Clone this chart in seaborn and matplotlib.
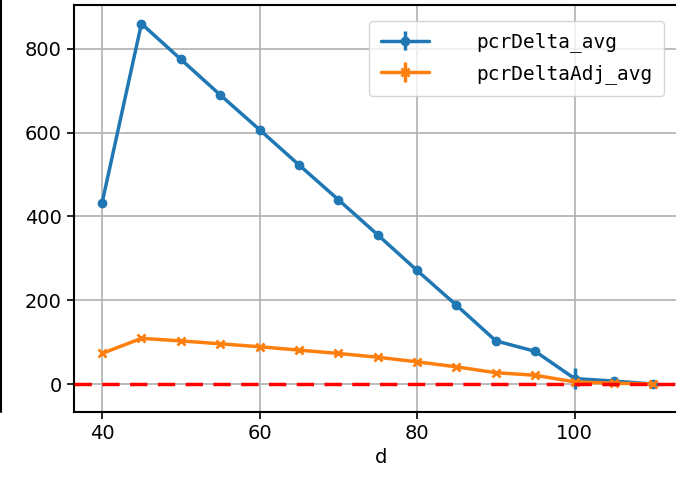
import numpy as np
import pandas as pd
import seaborn as sns
import matplotlib.pyplot as plt
from matplotlib.lines import Line2D

# Data
d = [40, 45, 50, 55, 60, 65, 70, 75, 80, 85, 90, 95, 100, 105, 110]
pcr_delta = [432, 860, 775, 690, 607, 523, 440, 356, 271, 188, 103, 78, 13, 7, 0]
pcr_delta_err = [3, 4, 3, 3, 3, 3, 3, 3, 3, 3, 4, 4, 26, 5, 2]
pcr_adj = [73, 109, 103, 96, 89, 81, 73, 64, 53, 41, 27, 21, 5, 2, 0]
pcr_adj_err = [3, 3, 3, 3, 3, 3, 3, 3, 3, 3, 3, 3, 4, 3, 2]

df = pd.DataFrame({'d': d, 'pcrDelta_avg': pcr_delta, 'pcrDeltaAdj_avg': pcr_adj})

sns.set_style('ticks')
plt.rcParams['font.family'] = ['Liberation Sans Narrow', 'DejaVu Sans']
plt.rcParams['text.color'] = 'black'
plt.rcParams['axes.labelcolor'] = 'black'
plt.rcParams['xtick.color'] = 'black'
plt.rcParams['ytick.color'] = 'black'

fig = plt.figure(figsize=(6.76, 4.82), dpi=100)
ax = fig.add_axes([0.109, 0.145, 0.91, 0.845])

colors = sns.color_palette('tab10')
ax.errorbar(df['d'], df['pcrDelta_avg'], yerr=pcr_delta_err, color=colors[0],
            marker='o', markersize=6, lw=2.5, elinewidth=2.5, label='pcrDelta_avg', zorder=3)
ax.errorbar(df['d'], df['pcrDeltaAdj_avg'], yerr=pcr_adj_err, color=colors[1],
            marker='x', markersize=6, mew=2, lw=2.5, elinewidth=2.5, label='pcrDeltaAdj_avg', zorder=3)
ax.axhline(0, color='red', ls=(0, (5, 3)), lw=2.5, zorder=4)

ax.set_ylim(-67, 905)
ax.set_xlim(36.4, 114.5)
ax.set_xticks([40, 60, 80, 100])
ax.set_yticks([0, 200, 400, 600, 800])
ax.grid(True, color='#b0b0b0', lw=1.2)
ax.set_xlabel('d', fontsize=14)
ax.tick_params(labelsize=14, width=1.2, length=5, color='black')
for s in ax.spines.values():
    s.set_linewidth(1.5)
    s.set_color('black')
    s.set_visible(True)

leg = ax.legend(loc='upper right', bbox_to_anchor=(0.975, 0.985),
                prop={'family': 'DejaVu Sans Mono', 'size': 14},
                handlelength=2.5, handletextpad=2.4, borderpad=0.6, labelspacing=0.6)

# stray spine of a neighbouring panel at the left edge
fig.add_artist(Line2D([0.002, 0.002], [0.145, 1.0], color='black', lw=1.5))

fig.savefig('out.png', dpi=100)
